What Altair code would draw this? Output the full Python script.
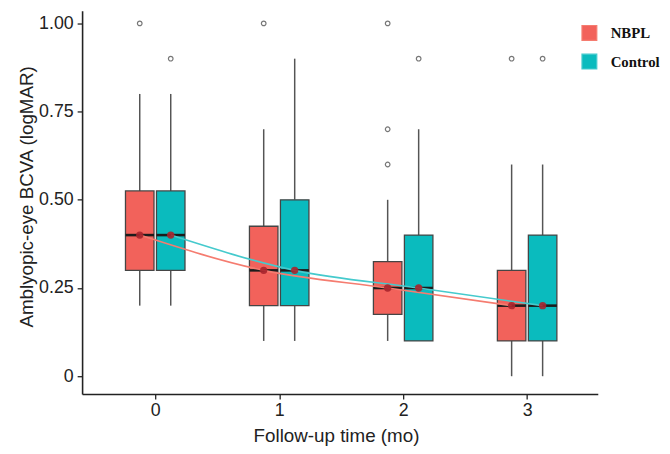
import altair as alt
import pandas as pd

# ---- data ----
times = [0, 0, 1, 1, 2, 2, 3, 3]
groups = ["NBPL", "Control", "NBPL", "Control", "NBPL", "Control", "NBPL", "Control"]
whisker_lo = [0.20, 0.20, 0.10, 0.10, 0.10, 0.10, 0.00, 0.00]
q1 = [0.30, 0.30, 0.20, 0.20, 0.175, 0.10, 0.10, 0.10]
median = [0.40, 0.40, 0.30, 0.30, 0.25, 0.25, 0.20, 0.20]
q3 = [0.525, 0.525, 0.425, 0.50, 0.325, 0.40, 0.30, 0.40]
whisker_hi = [0.80, 0.80, 0.70, 0.90, 0.50, 0.70, 0.60, 0.60]
means = [0.40, 0.40, 0.30, 0.30, 0.25, 0.25, 0.20, 0.20]

out_time = [0, 0, 1, 2, 2, 2, 2, 3, 3]
out_group = ["NBPL", "Control", "NBPL", "NBPL", "NBPL", "NBPL", "Control", "NBPL", "Control"]
out_value = [1.00, 0.90, 1.00, 1.00, 0.70, 0.60, 0.90, 0.90, 0.90]

group_order = ["NBPL", "Control"]
box_colors = ["#F2625B", "#0ABBBE"]
line_colors = ["#F57C70", "#45CACD"]

box = pd.DataFrame({
    "time": times, "group": groups, "lo": whisker_lo, "q1": q1,
    "median": median, "q3": q3, "hi": whisker_hi, "mean": means,
})
outl = pd.DataFrame({"time": out_time, "group": out_group, "value": out_value})

DODGE = 0.125
HALF = 0.115
pos_expr = f"datum.time + (datum.group == 'NBPL' ? {-DODGE} : {DODGE})"

xscale = alt.Scale(domain=[-0.59, 3.57], nice=False, zero=False)
yscale = alt.Scale(domain=[-0.0504, 1.036], nice=False, zero=False)

xaxis = alt.Axis(values=[0, 1, 2, 3], format="d", title="Follow-up time (mo)",
                 titleX=257, titleY=42, titleBaseline="middle", titleAlign="center")
yaxis = alt.Axis(values=[0, 0.25, 0.5, 0.75, 1.0],
                 labelExpr="datum.value == 0 ? '0' : format(datum.value, '.2f')",
                 title="Amblyopic-eye BCVA (logMAR)",
                 titleX=-56, titleY=188, titleBaseline="middle", titleAlign="center")

base = alt.Chart(box).transform_calculate(
    pos=pos_expr,
    xl=f"datum.time + (datum.group == 'NBPL' ? {-DODGE} : {DODGE}) - {HALF}",
    xr=f"datum.time + (datum.group == 'NBPL' ? {-DODGE} : {DODGE}) + {HALF}",
)

wh_low = base.mark_rule(color="#555555", strokeWidth=1.5).encode(
    x=alt.X("pos:Q", scale=xscale, axis=xaxis),
    y=alt.Y("lo:Q", scale=yscale, axis=yaxis),
    y2="q1:Q",
)
wh_high = base.mark_rule(color="#555555", strokeWidth=1.5).encode(
    x=alt.X("pos:Q", scale=xscale),
    y=alt.Y("q3:Q", scale=yscale),
    y2="hi:Q",
)
boxes = base.mark_bar(stroke="#454545", strokeWidth=1.3, opacity=1).encode(
    x=alt.X("xl:Q", scale=xscale),
    x2="xr:Q",
    y=alt.Y("q1:Q", scale=yscale),
    y2="q3:Q",
    fill=alt.Fill("group:N", scale=alt.Scale(domain=group_order, range=box_colors),
                  legend=alt.Legend(title=None, orient="none", legendX=505, legendY=14,
                                    symbolType="square", symbolSize=225,
                                    symbolStrokeColor="#444444", symbolStrokeWidth=1.2,
                                    symbolOpacity=1, labelFont="Liberation Serif",
                                    labelFontWeight="bold", labelFontSize=15,
                                    labelColor="#111111", labelOffset=13,
                                    rowPadding=8)),
)
med = base.mark_rule(color="#1c1c1c", strokeWidth=2.6).encode(
    x=alt.X("xl:Q", scale=xscale),
    x2="xr:Q",
    y=alt.Y("median:Q", scale=yscale),
)
trend = base.mark_line(interpolate="monotone", strokeWidth=1.6).encode(
    x=alt.X("pos:Q", scale=xscale),
    y=alt.Y("mean:Q", scale=yscale),
    stroke=alt.Stroke("group:N", scale=alt.Scale(domain=group_order, range=line_colors),
                      legend=None),
    order="time:Q",
)
mean_pts = base.mark_circle(color="#A8252C", size=55, opacity=0.9).encode(
    x=alt.X("pos:Q", scale=xscale),
    y=alt.Y("mean:Q", scale=yscale),
)
outliers = alt.Chart(outl).transform_calculate(pos=pos_expr).mark_point(
    shape="circle", filled=False, color="#777777", size=22, strokeWidth=1.2, opacity=1
).encode(
    x=alt.X("pos:Q", scale=xscale),
    y=alt.Y("value:Q", scale=yscale),
)

chart = alt.layer(wh_low, wh_high, boxes, med, trend, mean_pts, outliers).properties(
    width=522, height=388,
    autosize=alt.AutoSizeParams(type="none"),
    padding={"left": 75, "top": 0, "right": 65, "bottom": 56},
).configure_view(stroke=None).configure_axis(
    grid=False, domainColor="#222222", domainWidth=1.6, tickColor="#222222",
    tickSize=5, tickWidth=1.3, labelColor="#222222", titleColor="#222222",
    labelFont="Liberation Sans", titleFont="Liberation Sans",
    labelFontSize=18, titleFontSize=19, titleFontWeight="normal",
).configure_axisY(labelPadding=4).configure_axisX(labelPadding=3)

chart.save("out.html", embed_options={"renderer": "svg", "actions": False})
